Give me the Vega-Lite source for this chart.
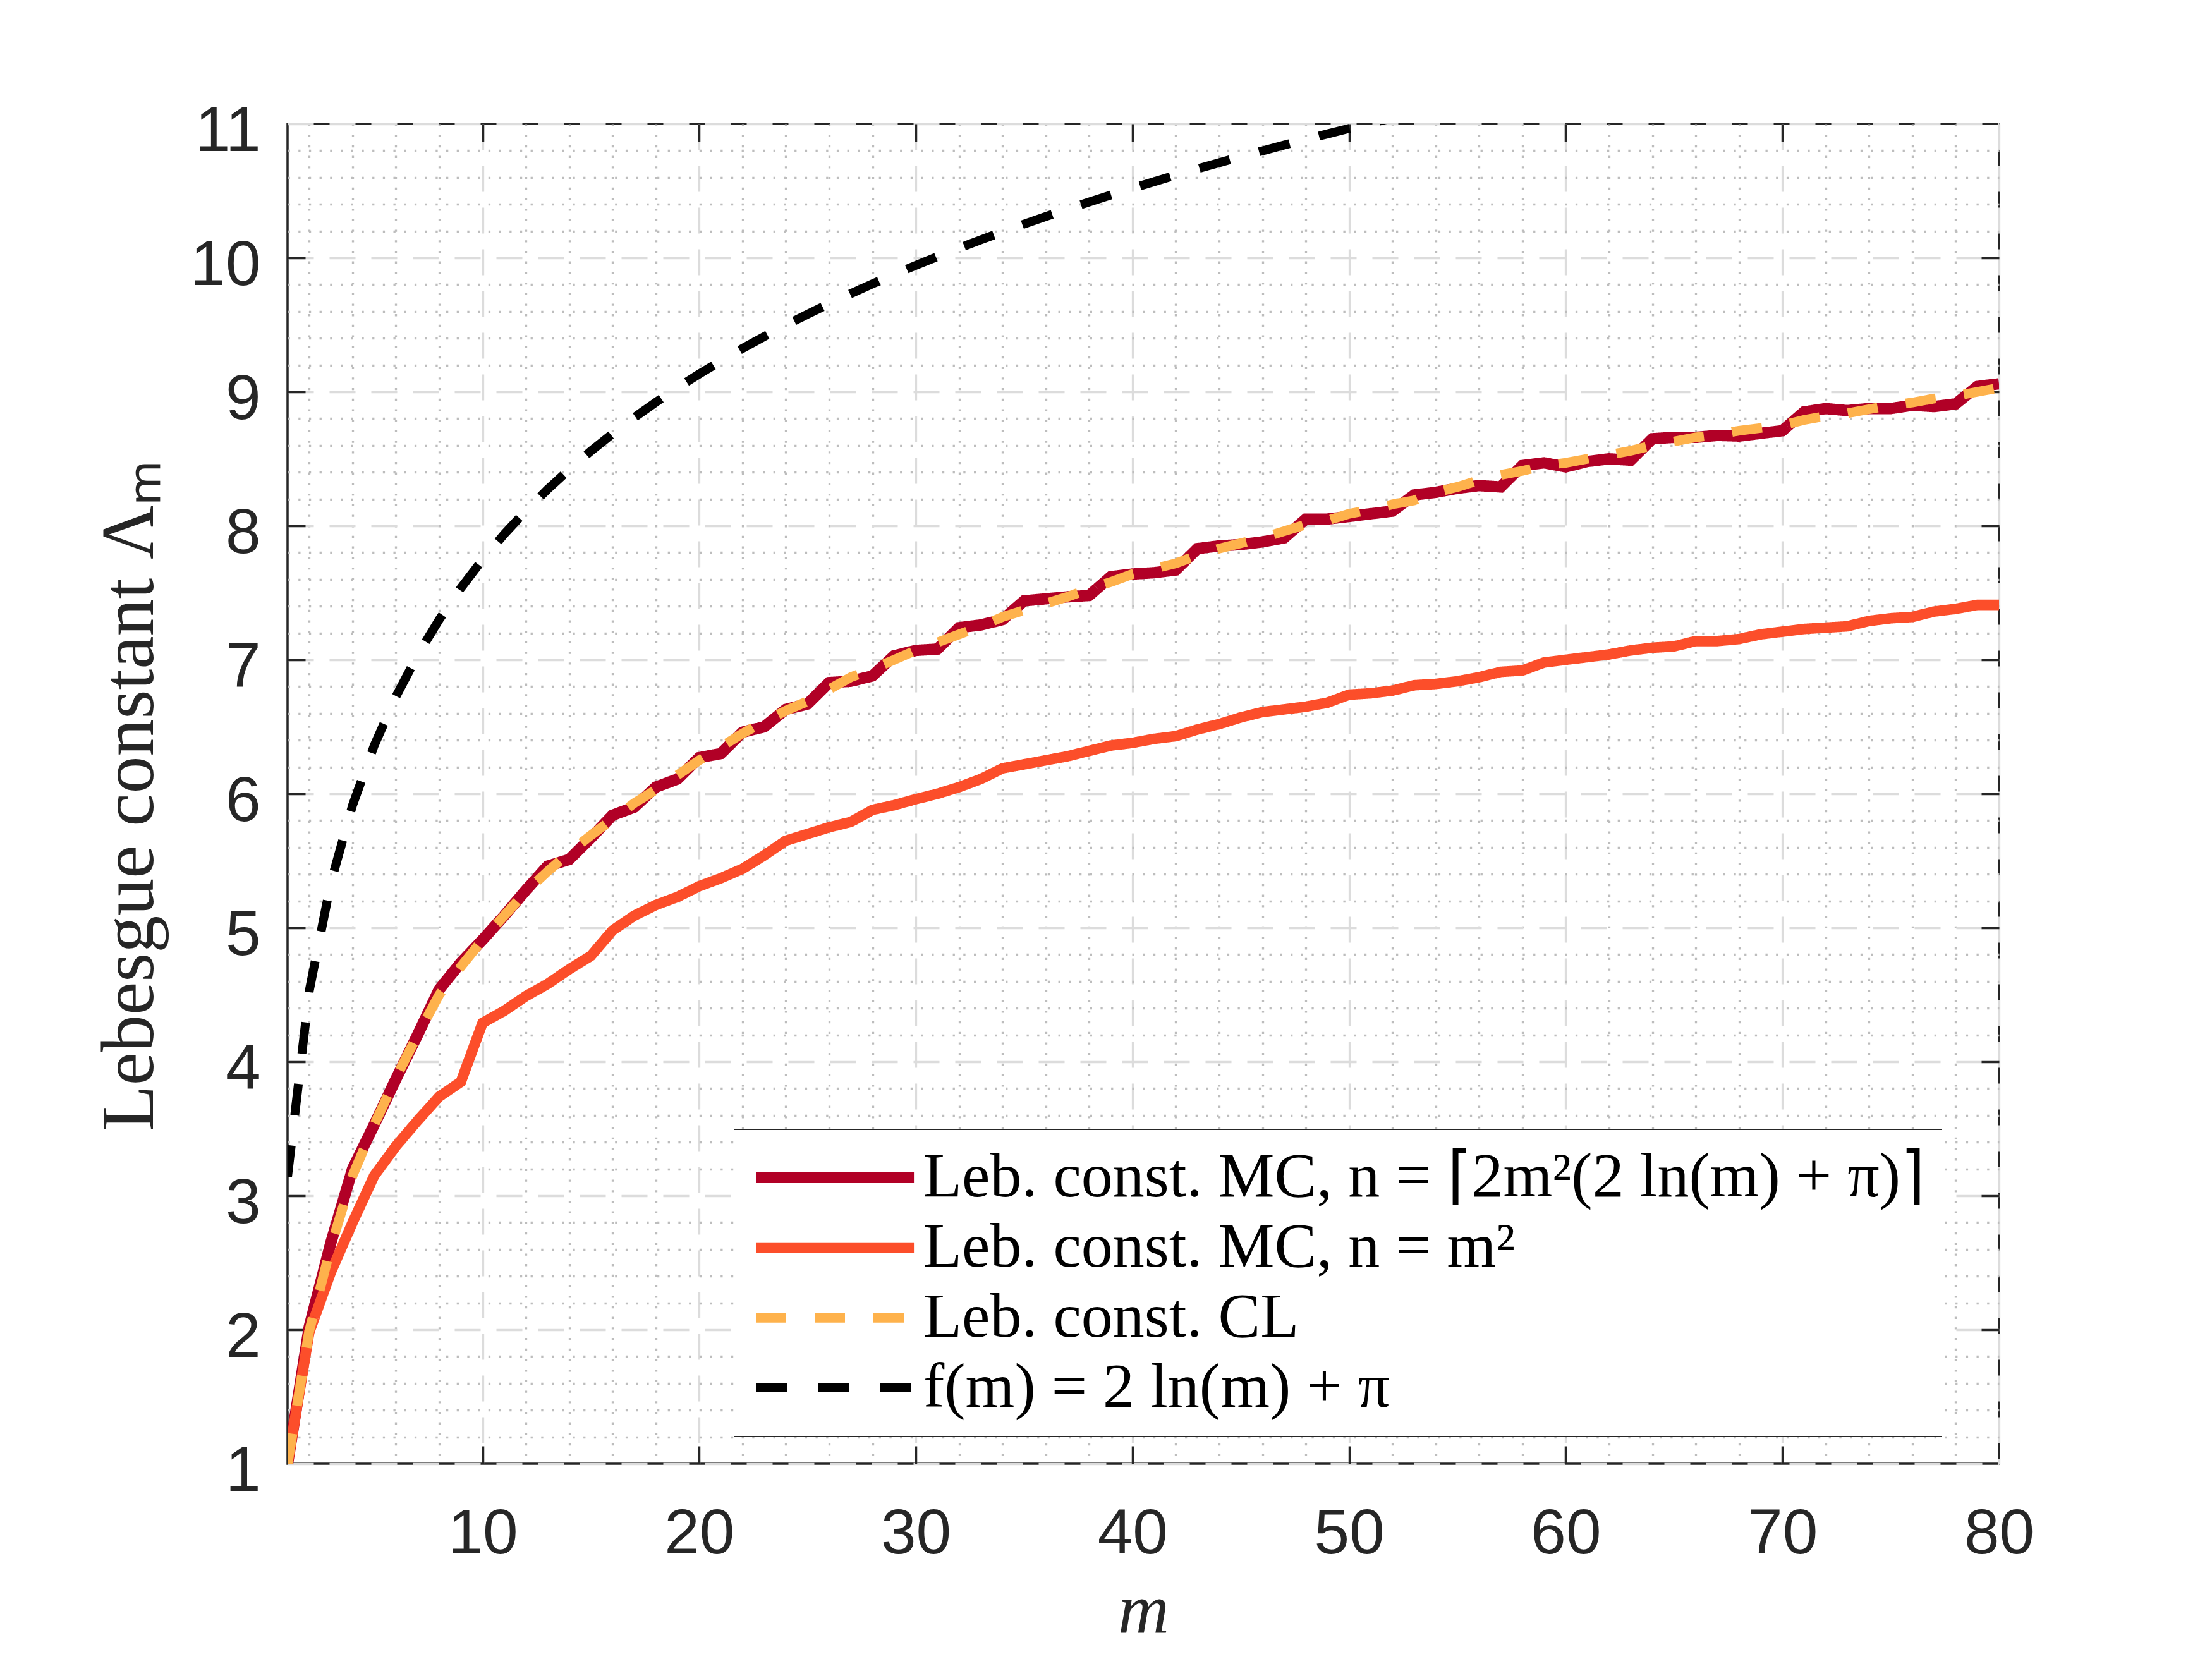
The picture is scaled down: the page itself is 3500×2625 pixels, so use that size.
{
  "$schema": "https://vega.github.io/schema/vega-lite/v6.json",
  "autosize": {"type": "none"},
  "width": 2708,
  "height": 2120,
  "padding": {"left": 455, "top": 196, "right": 337, "bottom": 309},
  "background": "white",
  "data": {"values": [
    {"m":1,"a":1.00,"b":1.00,"c":1.00,"f":3.1416},
    {"m":2,"a":2.02,"b":1.98,"c":1.99,"f":4.5279},
    {"m":3,"a":2.65,"b":2.43,"c":2.62,"f":5.3388},
    {"m":4,"a":3.20,"b":2.80,"c":3.15,"f":5.9142},
    {"m":5,"a":3.53,"b":3.15,"c":3.53,"f":6.3605},
    {"m":6,"a":3.87,"b":3.37,"c":3.88,"f":6.7251},
    {"m":7,"a":4.20,"b":3.56,"c":4.20,"f":7.0334},
    {"m":8,"a":4.54,"b":3.74,"c":4.50,"f":7.3005},
    {"m":9,"a":4.74,"b":3.85,"c":4.71,"f":7.5360},
    {"m":10,"a":4.91,"b":4.29,"c":4.91,"f":7.7468},
    {"m":11,"a":5.09,"b":4.38,"c":5.09,"f":7.9374},
    {"m":12,"a":5.28,"b":4.49,"c":5.27,"f":8.1114},
    {"m":13,"a":5.46,"b":4.58,"c":5.42,"f":8.2715},
    {"m":14,"a":5.51,"b":4.69,"c":5.56,"f":8.4197},
    {"m":15,"a":5.67,"b":4.79,"c":5.69,"f":8.5577},
    {"m":16,"a":5.84,"b":4.98,"c":5.81,"f":8.6868},
    {"m":17,"a":5.90,"b":5.09,"c":5.93,"f":8.8080},
    {"m":18,"a":6.05,"b":5.17,"c":6.03,"f":8.9223},
    {"m":19,"a":6.11,"b":5.23,"c":6.14,"f":9.0305},
    {"m":20,"a":6.27,"b":5.31,"c":6.25,"f":9.1331},
    {"m":21,"a":6.30,"b":5.37,"c":6.35,"f":9.2307},
    {"m":22,"a":6.46,"b":5.44,"c":6.45,"f":9.3237},
    {"m":23,"a":6.50,"b":5.54,"c":6.54,"f":9.4126},
    {"m":24,"a":6.63,"b":5.65,"c":6.62,"f":9.4977},
    {"m":25,"a":6.67,"b":5.70,"c":6.69,"f":9.5793},
    {"m":26,"a":6.83,"b":5.75,"c":6.78,"f":9.6578},
    {"m":27,"a":6.84,"b":5.79,"c":6.87,"f":9.7333},
    {"m":28,"a":6.88,"b":5.88,"c":6.93,"f":9.8060},
    {"m":29,"a":7.03,"b":5.915,"c":7.00,"f":9.8762},
    {"m":30,"a":7.07,"b":5.96,"c":7.07,"f":9.9440},
    {"m":31,"a":7.08,"b":6.00,"c":7.13,"f":10.0096},
    {"m":32,"a":7.24,"b":6.05,"c":7.19,"f":10.0731},
    {"m":33,"a":7.26,"b":6.11,"c":7.25,"f":10.1346},
    {"m":34,"a":7.30,"b":6.19,"c":7.32,"f":10.1943},
    {"m":35,"a":7.44,"b":6.22,"c":7.37,"f":10.2523},
    {"m":36,"a":7.455,"b":6.25,"c":7.42,"f":10.3086},
    {"m":37,"a":7.47,"b":6.28,"c":7.47,"f":10.3634},
    {"m":38,"a":7.48,"b":6.32,"c":7.53,"f":10.4168},
    {"m":39,"a":7.62,"b":6.36,"c":7.58,"f":10.4687},
    {"m":40,"a":7.64,"b":6.38,"c":7.64,"f":10.5193},
    {"m":41,"a":7.65,"b":6.41,"c":7.68,"f":10.5687},
    {"m":42,"a":7.67,"b":6.43,"c":7.72,"f":10.6169},
    {"m":43,"a":7.83,"b":6.48,"c":7.78,"f":10.6640},
    {"m":44,"a":7.85,"b":6.52,"c":7.83,"f":10.7099},
    {"m":45,"a":7.86,"b":6.57,"c":7.87,"f":10.7549},
    {"m":46,"a":7.88,"b":6.61,"c":7.91,"f":10.7988},
    {"m":47,"a":7.91,"b":6.63,"c":7.96,"f":10.8418},
    {"m":48,"a":8.05,"b":6.65,"c":8.01,"f":10.8839},
    {"m":49,"a":8.05,"b":6.68,"c":8.04,"f":10.9251},
    {"m":50,"a":8.07,"b":6.74,"c":8.09,"f":10.9655},
    {"m":51,"a":8.09,"b":6.75,"c":8.12,"f":11.0050},
    {"m":52,"a":8.11,"b":6.77,"c":8.16,"f":11.0438},
    {"m":53,"a":8.23,"b":6.81,"c":8.19},
    {"m":54,"a":8.25,"b":6.82,"c":8.25},
    {"m":55,"a":8.28,"b":6.84,"c":8.29},
    {"m":56,"a":8.30,"b":6.87,"c":8.34},
    {"m":57,"a":8.29,"b":6.91,"c":8.38},
    {"m":58,"a":8.45,"b":6.92,"c":8.41},
    {"m":59,"a":8.47,"b":6.98,"c":8.45},
    {"m":60,"a":8.44,"b":7.00,"c":8.47},
    {"m":61,"a":8.48,"b":7.02,"c":8.50},
    {"m":62,"a":8.50,"b":7.04,"c":8.53},
    {"m":63,"a":8.49,"b":7.07,"c":8.56},
    {"m":64,"a":8.65,"b":7.09,"c":8.60},
    {"m":65,"a":8.66,"b":7.10,"c":8.63},
    {"m":66,"a":8.66,"b":7.14,"c":8.66},
    {"m":67,"a":8.675,"b":7.14,"c":8.68},
    {"m":68,"a":8.67,"b":7.155,"c":8.71},
    {"m":69,"a":8.69,"b":7.19,"c":8.73},
    {"m":70,"a":8.71,"b":7.21,"c":8.75},
    {"m":71,"a":8.85,"b":7.23,"c":8.79},
    {"m":72,"a":8.875,"b":7.24,"c":8.82},
    {"m":73,"a":8.86,"b":7.25,"c":8.84},
    {"m":74,"a":8.875,"b":7.29,"c":8.87},
    {"m":75,"a":8.875,"b":7.31,"c":8.90},
    {"m":76,"a":8.90,"b":7.32,"c":8.92},
    {"m":77,"a":8.89,"b":7.36,"c":8.95},
    {"m":78,"a":8.91,"b":7.38,"c":8.97},
    {"m":79,"a":9.04,"b":7.41,"c":9.00},
    {"m":80,"a":9.06,"b":7.41,"c":9.03}
  ]},
  "transform": [
    {"fold": ["a", "b", "c", "f"], "as": ["key", "value"]},
    {"filter": "isValid(datum.value)"}
  ],
  "resolve": {"axis": {"x": "independent", "y": "independent"}},
  "layer": [
    {
      "mark": {"type": "point", "opacity": 0},
      "encoding": {
        "x": {"field": "m", "type": "quantitative", "scale": {"domain": [1, 80], "nice": false, "zero": false},
          "axis": {"orient": "bottom", "values": [2,4,6,8,12,14,16,18,22,24,26,28,32,34,36,38,42,44,46,48,52,54,56,58,62,64,66,68,72,74,76,78],
            "grid": true, "gridDash": [3.3, 13.4], "gridColor": "#bdbdbd", "gridWidth": 3.3,
            "domain": false, "ticks": false, "labels": false, "title": null}},
        "y": {"field": "value", "type": "quantitative", "scale": {"domain": [1, 11], "nice": false, "zero": false},
          "axis": {"orient": "left", "values": [1.2,1.4,1.6,1.8,2.2,2.4,2.6,2.8,3.2,3.4,3.6,3.8,4.2,4.4,4.6,4.8,5.2,5.4,5.6,5.8,6.2,6.4,6.6,6.8,7.2,7.4,7.6,7.8,8.2,8.4,8.6,8.8,9.2,9.4,9.6,9.8,10.2,10.4,10.6,10.8],
            "grid": true, "gridDash": [3.3, 13.4], "gridColor": "#bdbdbd", "gridWidth": 3.3,
            "domain": false, "ticks": false, "labels": false, "title": null}}
      }
    },
    {
      "mark": {"type": "point", "opacity": 0},
      "encoding": {
        "x": {"field": "m", "type": "quantitative", "scale": {"domain": [1, 80], "nice": false, "zero": false},
          "axis": {"orient": "bottom", "values": [10,20,30,40,50,60,70,80],
            "grid": true, "gridDash": [41, 25], "gridColor": "#dcdcdc", "gridWidth": 3.3,
            "domain": false, "ticks": false, "labels": true, "labelFlush": false, "labelOverlap": false,
            "labelFont": "Liberation Sans", "labelFontSize": 100, "labelColor": "#262626",
            "labelPadding": 62, "labelBaseline": "top",
            "title": "m", "titleFont": "Liberation Serif", "titleFontStyle": "italic", "titleFontWeight": "normal",
            "titleFontSize": 112, "titleColor": "#262626", "titleX": 1354, "titleY": 267, "titleBaseline": "alphabetic"}},
        "y": {"field": "value", "type": "quantitative", "scale": {"domain": [1, 11], "nice": false, "zero": false},
          "axis": {"orient": "left", "values": [1,2,3,4,5,6,7,8,9,10,11],
            "grid": true, "gridDash": [41, 25], "gridColor": "#dcdcdc", "gridWidth": 3.3,
            "domain": false, "ticks": false, "labels": true, "labelFlush": false, "labelOverlap": false,
            "labelFont": "Liberation Sans", "labelFontSize": 100, "labelColor": "#262626",
            "labelPadding": 43, "labelBaseline": "middle", "labelOffset": 12,
            "title": "Lebesgue constant Λₘ", "titleFont": "Liberation Serif", "titleFontWeight": "normal",
            "titleFontSize": 118, "titleColor": "#262626", "titleX": -214, "titleY": 1062, "titleBaseline": "alphabetic", "titleAngle": 270}}
      }
    },
    {
      "mark": {"type": "line", "clip": true},
      "transform": [{"filter": {"field": "key", "equal": "a"}}],
      "encoding": {
        "x": {"field": "m", "type": "quantitative", "scale": {"domain": [1, 80], "nice": false, "zero": false}, "axis": null},
        "y": {"field": "value", "type": "quantitative", "scale": {"domain": [1, 11], "nice": false, "zero": false}, "axis": null},
        "color": {"field": "key", "type": "nominal", "scale": {"domain": ["a","b","c","f"], "range": ["#B10026","#FC4E2A","#FEB24C","#000000"]},
          "legend": {"title": null, "labelExpr": "({'a': 'Leb. const. MC, n = ⌈2m²(2 ln(m) + π)⌉', 'b': 'Leb. const. MC, n = m²', 'c': 'Leb. const. CL', 'f': 'f(m) = 2 ln(m) + π'})[datum.label]"}},
        "strokeDash": {"field": "key", "type": "nominal", "scale": {"domain": ["a","b","c","f"], "range": [[1,0],[1,0],[48,45],[50,48]]},
          "legend": {"title": null, "labelExpr": "({'a': 'Leb. const. MC, n = ⌈2m²(2 ln(m) + π)⌉', 'b': 'Leb. const. MC, n = m²', 'c': 'Leb. const. CL', 'f': 'f(m) = 2 ln(m) + π'})[datum.label]"}},
        "strokeWidth": {"field": "key", "type": "nominal", "scale": {"domain": ["a","b","c","f"], "range": [18,14,11,13]},
          "legend": {"title": null, "labelExpr": "({'a': 'Leb. const. MC, n = ⌈2m²(2 ln(m) + π)⌉', 'b': 'Leb. const. MC, n = m²', 'c': 'Leb. const. CL', 'f': 'f(m) = 2 ln(m) + π'})[datum.label]"}}
      }
    },
    {
      "mark": {"type": "line", "clip": true},
      "transform": [{"filter": {"field": "key", "equal": "b"}}],
      "encoding": {
        "x": {"field": "m", "type": "quantitative", "axis": null},
        "y": {"field": "value", "type": "quantitative", "axis": null},
        "color": {"field": "key", "type": "nominal"},
        "strokeDash": {"field": "key", "type": "nominal"},
        "strokeWidth": {"field": "key", "type": "nominal"}
      }
    },
    {
      "mark": {"type": "line", "clip": true},
      "transform": [{"filter": {"field": "key", "equal": "c"}}],
      "encoding": {
        "x": {"field": "m", "type": "quantitative", "axis": null},
        "y": {"field": "value", "type": "quantitative", "axis": null},
        "color": {"field": "key", "type": "nominal"},
        "strokeDash": {"field": "key", "type": "nominal"},
        "strokeWidth": {"field": "key", "type": "nominal"}
      }
    },
    {
      "mark": {"type": "line", "clip": true},
      "transform": [{"filter": {"field": "key", "equal": "f"}}],
      "encoding": {
        "x": {"field": "m", "type": "quantitative", "axis": null},
        "y": {"field": "value", "type": "quantitative", "axis": null},
        "color": {"field": "key", "type": "nominal"},
        "strokeDash": {"field": "key", "type": "nominal"},
        "strokeWidth": {"field": "key", "type": "nominal"}
      }
    },
    {
      "mark": {"type": "point", "opacity": 0},
      "encoding": {
        "x": {"field": "m", "type": "quantitative",
          "axis": {"orient": "bottom", "values": [10,20,30,40,50,60,70], "grid": false, "domain": false, "labels": false, "title": null,
            "ticks": true, "tickSize": -28, "tickWidth": 3.5, "tickColor": "#262626"}},
        "y": {"field": "value", "type": "quantitative",
          "axis": {"orient": "left", "values": [2,3,4,5,6,7,8,9,10], "grid": false, "domain": false, "labels": false, "title": null,
            "ticks": true, "tickSize": -28, "tickWidth": 3.5, "tickColor": "#262626"}}
      }
    },
    {
      "mark": {"type": "point", "opacity": 0},
      "encoding": {
        "x": {"field": "m", "type": "quantitative",
          "axis": {"orient": "top", "values": [10,20,30,40,50,60,70], "grid": false, "domain": false, "labels": false, "title": null,
            "ticks": true, "tickSize": -28, "tickWidth": 3.5, "tickColor": "#262626"}},
        "y": {"field": "value", "type": "quantitative",
          "axis": {"orient": "right", "values": [2,3,4,5,6,7,8,9,10], "grid": false, "domain": false, "labels": false, "title": null,
            "ticks": true, "tickSize": -28, "tickWidth": 3.5, "tickColor": "#262626"}}
      }
    }
  ],
  "config": {
    "font": "Liberation Sans",
    "view": {"stroke": "#262626", "strokeWidth": 3.5},
    "legend": {
      "orient": "none", "legendX": 706, "legendY": 1591,
      "padding": 26, "strokeColor": "#262626", "fillColor": "#ffffff",
      "symbolType": "M-1,0H5.1", "symbolSize": 6724,
      "labelFont": "Liberation Serif", "labelFontSize": 100, "labelColor": "#000000",
      "labelLimit": 3000, "labelOffset": 174, "rowPadding": 11
    }
  }
}
